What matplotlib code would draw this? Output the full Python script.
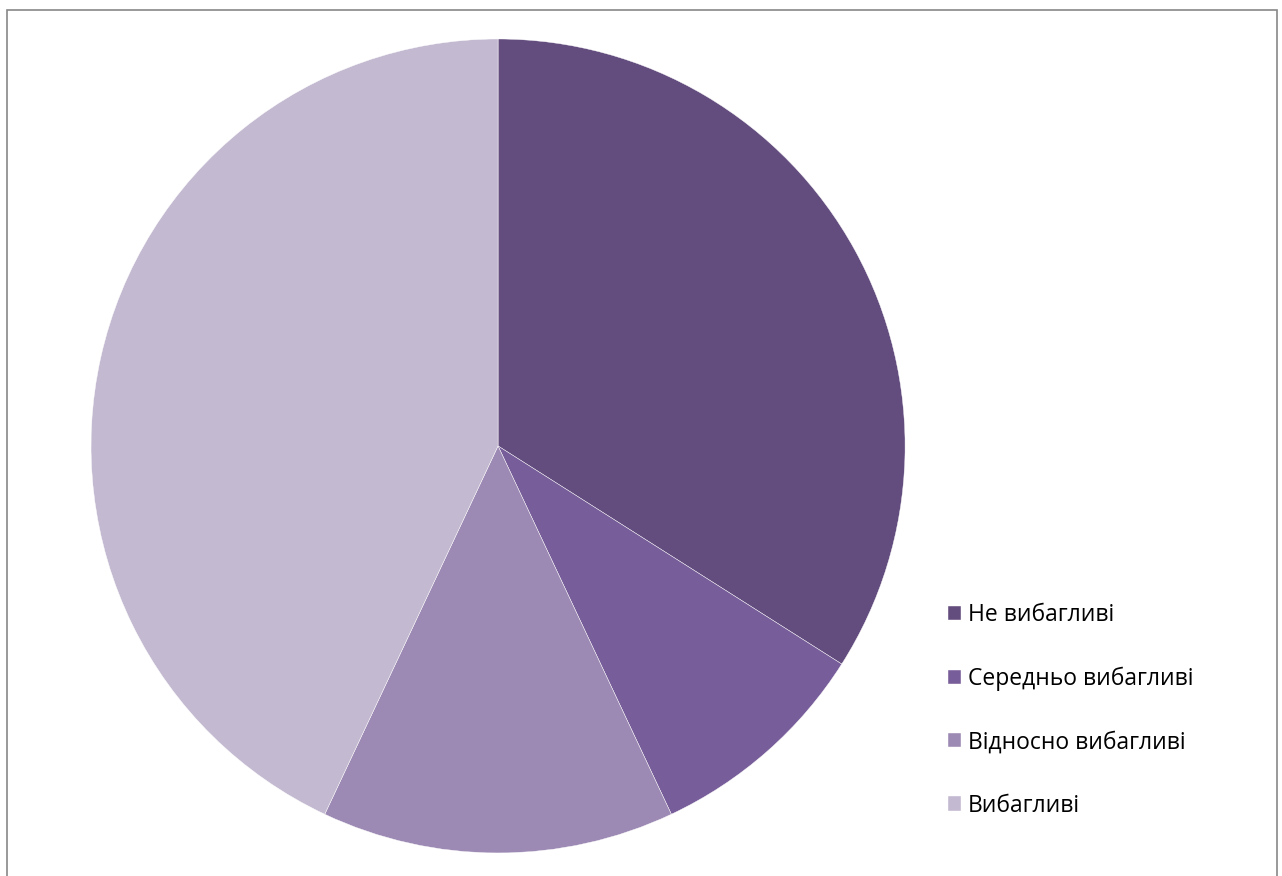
import matplotlib.pyplot as plt
from matplotlib.patches import Rectangle

plt.rcParams['font.family'] = ['Open Sans', 'DejaVu Sans']

# Share of respondents per category, %
labels = ['Не вибагливі', 'Середньо вибагливі', 'Відносно вибагливі', 'Вибагливі']
shares = [34, 9, 14, 43]
colors = ['#634c7e', '#775d99', '#9c89b4', '#c3b9d0']

fig = plt.figure(figsize=(12.82, 8.76), dpi=100)
ax = fig.add_axes([0.0710, 0.0263, 0.635, 0.9292])

wedges, _ = ax.pie(shares, colors=colors, startangle=90, counterclock=False,
                   radius=1.0, wedgeprops=dict(edgecolor='#ffffff', linewidth=0.3))
ax.set_xlim(-1.0, 1.0)
ax.set_ylim(-1.0, 1.0)
ax.set_aspect('auto')

leg = fig.legend(wedges, labels, loc='upper left', bbox_to_anchor=(0.732, 0.322),
                 frameon=False, fontsize=16.5, handlelength=0.6, handleheight=0.6,
                 handletextpad=0.3, labelspacing=1.72, borderaxespad=0)

# thin grey frame around the chart area
fig.patches.append(Rectangle((6.5 / 1282, -0.05), (1277 - 6.5) / 1282, 1.05 - 9.5 / 876,
                             transform=fig.transFigure, fill=False,
                             edgecolor='#878787', linewidth=1.2))

fig.savefig('out.png', dpi=100)
